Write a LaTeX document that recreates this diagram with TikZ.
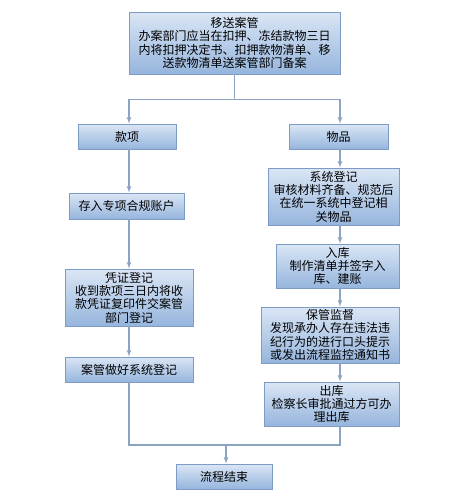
\documentclass[tikz,border=0pt]{standalone}
\usepackage{fontspec}
\newfontfamily\cjk{Noto Sans CJK SC}
\definecolor{boxtop}{RGB}{218,230,245}
\definecolor{boxbot}{RGB}{150,181,221}
\definecolor{boxedge}{RGB}{125,155,196}
\definecolor{flow}{RGB}{140,163,194}

\begin{document}
\begin{tikzpicture}[x=1pt,y=-1pt,>=latex,
    box/.style={draw=boxedge,line width=0.9pt,top color=boxtop,bottom color=boxbot,
      align=center,inner sep=0pt,font=\cjk\fontsize{12}{13.3}\selectfont},
    flowline/.style={draw=flow,line width=1.1pt}]
        \useasboundingbox (0,0) rectangle (463,493);
        % columns the connectors run on
        \coordinate (colL) at (129,0);
        \coordinate (colR) at (340,0);
        \node[box,minimum width=211pt,minimum height=62pt] (transfer) at (234.5,43) {移送案管\\办案部门应当在扣押、冻结款物三日\\内将扣押决定书、扣押款物清单、移\\送款物清单送案管部门备案};
        % money side
        \node[box,minimum width=98pt,minimum height=25pt] (money) at (127,136.5) {款项};
        \node[box,minimum width=115pt,minimum height=26pt] (account) at (126.5,206) {存入专项合规账户};
        \node[box,minimum width=128pt,minimum height=57pt] (voucher) at (129,297.5) {凭证登记\\收到款项三日内将收\\款凭证复印件交案管\\部门登记};
        \node[box,minimum width=128pt,minimum height=25pt] (record) at (129,369.5) {案管做好系统登记};
        % goods side
        \node[box,minimum width=99pt,minimum height=25pt] (goods) at (338.5,136.5) {物品};
        \node[box,minimum width=131pt,minimum height=57pt] (register) at (333.5,196.5) {系统登记\\审核材料齐备、规范后\\在统一系统中登记相\\关物品};
        \node[box,minimum width=123pt,minimum height=44pt] (storein) at (337.5,266) {入库\\制作清单并签字入\\库、建账};
        \node[box,minimum width=138pt,minimum height=56pt] (custody) at (330,335) {保管监督\\发现承办人存在违法违\\纪行为的进行口头提示\\或发出流程监控通知书};
        \node[box,minimum width=135pt,minimum height=44pt] (storeout) at (331.5,404) {出库\\检察长审批通过方可办\\理出库};
        \node[box,minimum width=96pt,minimum height=25pt] (finish) at (224,476.5) {流程结束};
        % split
        \draw[flowline] (transfer.south) -- ++(0,25) coordinate (split);
        \draw[flowline,->] (split) -| (colL |- money.north);
        \draw[flowline,->] (split) -| (colR |- goods.north);
        \draw[flowline,->] (money.south -| colL) -- (account.north -| colL);
        \draw[flowline,->] (account.south -| colL) -- (voucher.north -| colL);
        \draw[flowline,->] (voucher.south -| colL) -- (record.north -| colL);
        \draw[flowline,->] (goods.south -| colR) -- (register.north -| colR);
        \draw[flowline,->] (register.south -| colR) -- (storein.north -| colR);
        \draw[flowline,->] (storein.south -| colR) -- (custody.north -| colR);
        \draw[flowline,->] (custody.south -| colR) -- (storeout.north -| colR);
        % merge
        \coordinate (merge) at (226,445);
        \draw[flowline] (record.south -| colL) -- (colL |- merge) -- (colR |- merge) -- (storeout.south -| colR);
        \draw[flowline,->] (merge) -- (finish.north -| merge);
    \end{tikzpicture}
\end{document}
